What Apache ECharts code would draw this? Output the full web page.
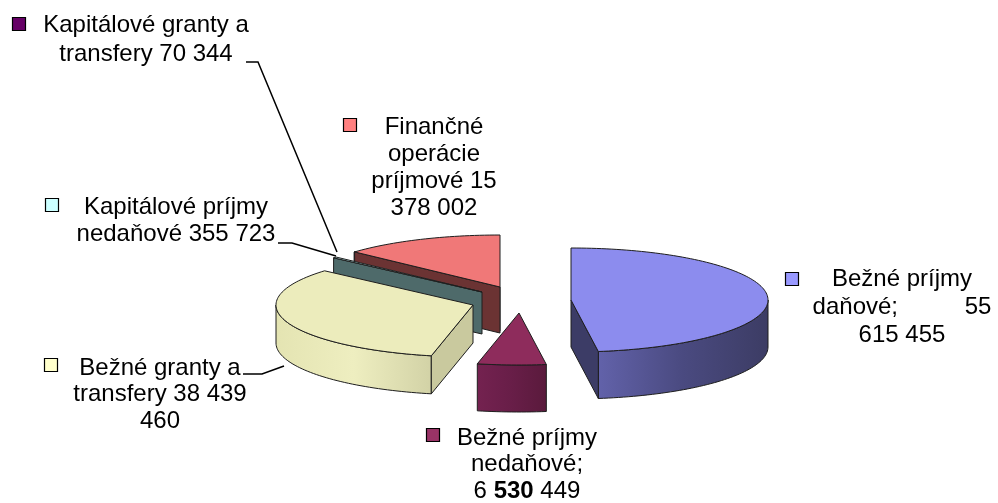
<!DOCTYPE html>
<html>
<head>
<meta charset="utf-8">
<script src="https://cdn.jsdelivr.net/npm/echarts@6/dist/echarts.min.js"></script>
<style>
  html, body { margin: 0; padding: 0; background: #fff; }
  #chart { width: 998px; height: 503px; }
</style>
</head>
<body>
<div id="chart"></div>
<script>
// data
const categories = [
  'Bežné príjmy daňové',
  'Bežné príjmy nedaňové',
  'Bežné granty a transfery',
  'Kapitálové príjmy nedaňové',
  'Kapitálové granty a transfery',
  'Finančné operácie príjmové'
];
const values = [55615455, 6530449, 38439460, 355723, 70344, 15378002];
const labelLines = [
  ['Bežné príjmy', 'daňové;          55', '615 455'],
  ['Bežné príjmy', 'nedaňové;', '6 {b|530} 449'],
  ['Bežné granty a', 'transfery 38 439', '460'],
  ['Kapitálové príjmy', 'nedaňové 355 723'],
  ['Kapitálové granty a', 'transfery 70 344'],
  ['Finančné', 'operácie', 'príjmové 15', '378 002']
];

// look
const baseColors = ['#9999FF', '#993366', '#FFFFCC', '#CCFFFF', '#660066', '#FF8080'];
const topColors = ['#8c8cee', '#8e2c5c', '#ececbc', '#b8eeee', '#5e005e', '#f07878'];
const faceColors = ['#3c3c66', '#5a1a3c', '#c9c99e', '#4e6a6a', '#4a004a', '#6b3333'];
// wall gradient, left -> right on screen
const wallStops = [
  ['#6262aa', '#4a4a80', '#3c3c64'],
  ['#742250', '#681e48', '#5a1a3c'],
  ['#e4e4b2', '#eeeec0', '#d2d2a6'],
  ['#4e6a6a', '#4e6a6a', '#4e6a6a'],
  ['#4a004a', '#4a004a', '#4a004a'],
  ['#c06060', '#b05858', '#a05050']
];
const CENTER = [500, 300];
const RX = 197, RY = 52;
const depth = [47, 47, 38, 42, 44, 46];
const explode = [[71, 0], [19, 13], [-27, 5], [-18, -8], [0, -13], [0, -13]];
const drawRank = [2, 5, 4, 3, 0, 1];

// label layout: text centre x, first line top, line height, key box
const labelPos = [
  { x: 902, y: 265, lh: 28, key: [785, 272] },
  { x: 527, y: 425, lh: 26.5, key: [426, 428] },
  { x: 160, y: 355, lh: 26.5, key: [44, 358] },
  { x: 176, y: 194, lh: 27, key: [45, 198] },
  { x: 146, y: 11, lh: 29, key: [12, 17] },
  { x: 434, y: 114, lh: 27, key: [343, 118] }
];
const leaders = [
  null,
  null,
  [[243, 374], [262, 374], [284, 366]],
  [[278, 243], [292, 243], [336, 256]],
  [[246, 62], [258, 62], [337, 252]],
  null
];

const STROKE = '#1e1e1e';
const FONT = '"Liberation Sans", Arial, sans-serif';

const total = values.reduce((a, b) => a + b, 0);

function renderItem(params, api) {
  const i = params.dataIndex;
  let before = 0;
  for (let k = 0; k < i; k++) before += values[k];
  const a0 = before / total * 360;
  const a1 = (before + api.value(0)) / total * 360;
  const cx = CENTER[0] + explode[i][0];
  const cy = CENTER[1] + explode[i][1];
  const d = depth[i];
  const base = drawRank[i] * 10;
  const pt = (deg, dz) => {
    const r = deg * Math.PI / 180;
    return [cx + RX * Math.sin(r), cy - RY * Math.cos(r) + dz];
  };
  const arc = (s, e, dz) => {
    const n = Math.max(2, Math.ceil((e - s) / 1.5));
    const out = [];
    for (let k = 0; k <= n; k++) out.push(pt(s + (e - s) * k / n, dz));
    return out;
  };
  const children = [];

  // outer wall (front half only)
  const ws = Math.max(a0, 90), we = Math.min(a1, 270);
  if (we > ws) {
    const st = wallStops[i];
    children.push({
      type: 'polygon',
      z2: base + 1,
      shape: { points: arc(ws, we, 0).concat(arc(ws, we, d).reverse()) },
      style: {
        fill: {
          type: 'linear', x: 0, y: 0, x2: 1, y2: 0,
          colorStops: [
            { offset: 0, color: st[0] },
            { offset: 0.5, color: st[1] },
            { offset: 1, color: st[2] }
          ]
        },
        stroke: STROKE, lineWidth: 1
      }
    });
  }
  // radial side faces
  const face = (deg) => {
    const p = pt(deg, 0), q = pt(deg, d);
    return {
      type: 'polygon',
      z2: base + 1,
      shape: { points: [[cx, cy], p, q, [cx, cy + d]] },
      style: { fill: faceColors[i], stroke: STROKE, lineWidth: 1 }
    };
  };
  if (Math.sin(a0 * Math.PI / 180) < -0.001) children.push(face(a0));
  if (Math.sin(a1 * Math.PI / 180) > 0.001) children.push(face(a1));
  // top face
  children.push({
    type: 'polygon',
    z2: base + 2,
    shape: { points: [[cx, cy]].concat(arc(a0, a1, 0)) },
    style: { fill: topColors[i], stroke: STROKE, lineWidth: 1 }
  });

  // label
  const lp = labelPos[i];
  children.push({
    type: 'rect',
    z2: 200,
    shape: { x: lp.key[0] + 0.5, y: lp.key[1] + 0.5, width: 13, height: 13 },
    style: { fill: baseColors[i], stroke: '#000', lineWidth: 1.2 }
  });
  children.push({
    type: 'text',
    z2: 200,
    x: lp.x,
    y: lp.y,
    style: {
      text: labelLines[i].join('\n'),
      font: '24px ' + FONT,
      fill: '#000',
      align: 'center',
      verticalAlign: 'top',
      lineHeight: lp.lh,
      rich: {
        b: { fontWeight: 'bold', fontSize: 24, fontFamily: FONT, lineHeight: lp.lh }
      }
    }
  });
  if (leaders[i]) {
    children.push({
      type: 'polyline',
      z2: 150,
      shape: { points: leaders[i] },
      style: { stroke: '#000', lineWidth: 1.5, fill: null }
    });
  }

  return { type: 'group', children: children };
}

const chart = echarts.init(document.getElementById('chart'));
chart.setOption({
  animation: false,
  backgroundColor: '#fff',
  series: [{
    type: 'custom',
    coordinateSystem: 'none',
    renderItem: renderItem,
    data: values.map((v, i) => ({ value: v, name: categories[i] }))
  }]
});
</script>
</body>
</html>
